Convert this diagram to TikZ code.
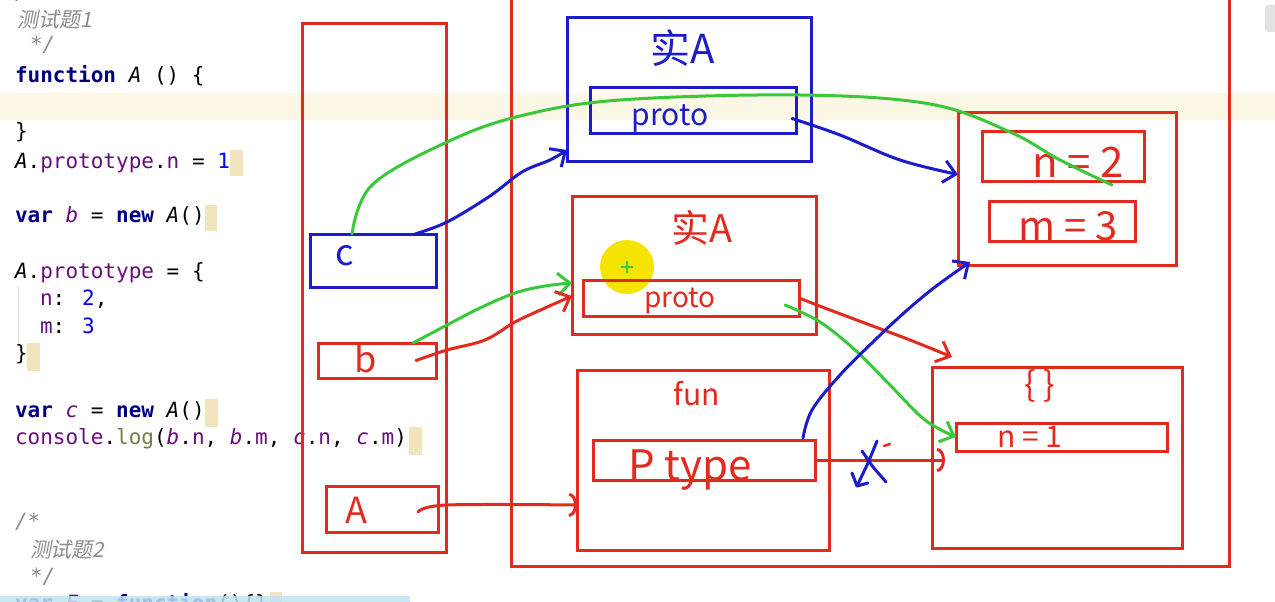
\documentclass[tikz,border=0pt]{standalone}
\usepackage{fontspec}
\usetikzlibrary{arrows.meta,calc}
\newfontfamily\codefont{DejaVu Sans Mono}
\newfontfamily\cjkit[FakeSlant=0.2]{Noto Sans CJK SC}
\newfontfamily\hand{Noto Sans CJK SC}
\definecolor{kw}{HTML}{000080}
\definecolor{pu}{HTML}{660E7A}
\definecolor{num}{HTML}{0000FF}
\definecolor{ol}{HTML}{7A7A43}
\definecolor{cm}{HTML}{8C8C8C}
\definecolor{band}{HTML}{FDF7E6}
\definecolor{caret}{HTML}{F2E4BD}
\definecolor{pred}{HTML}{E32A1E}
\definecolor{pblue}{HTML}{1C1CC8}
\definecolor{pgreen}{HTML}{3AC83A}
\definecolor{cursorY}{HTML}{F5E300}
\definecolor{lblue}{HTML}{BEE3F2}
\newcommand{\kwd}[1]{\textcolor{kw}{\bfseries #1}}
\newcommand{\pur}[1]{\textcolor{pu}{#1}}
\newcommand{\ipur}[1]{\textcolor{pu}{\itshape #1}}
\newcommand{\nm}[1]{\textcolor{num}{#1}}
\newcommand{\hfs}[1]{\hand\fontsize{#1}{#1}\selectfont}
\begin{document}
\begin{tikzpicture}[x=1pt,y=-1pt,
  code/.style={anchor=base west, inner sep=0pt, outer sep=0pt, font=\codefont\fontsize{21}{25}\selectfont},
  cmt/.style={code, text=cm, font=\codefont\itshape\fontsize{21}{25}\selectfont},
  cjkc/.style={code, text=cm, font=\cjkit\fontsize{21}{25}\selectfont},
  rbox/.style={draw=pred, line width=3pt, inner sep=0pt, outer sep=0pt},
  bbox/.style={draw=pblue, line width=3pt, inner sep=0pt, outer sep=0pt},
  rlab/.style={text=pred, inner sep=0pt},
  blab/.style={text=pblue, inner sep=0pt},
  rpen/.style={draw=pred, line width=3pt, line cap=round, line join=round},
  bpen/.style={draw=pblue, line width=3pt, line cap=round, line join=round},
  gpen/.style={draw=pgreen, line width=3pt, line cap=round, line join=round},
  barb/.style={-{Straight Barb[length=12pt,width=22pt]}},
  arcbarb/.style={-{Arc Barb[length=8pt,width=24pt]}}
]
\useasboundingbox (0,0) rectangle (1275,602);
\clip (0,0) rectangle (1275,602);
\fill[white] (0,0) rectangle (1275,602);
% current line band
\fill[band] (0,93) rectangle (1275,120);
% caret blocks
\fill[caret] (230,150) rectangle (243,176);
\fill[caret] (205,205) rectangle (217,231);
\fill[caret] (27,343) rectangle (40,371);
\fill[caret] (205,399) rectangle (218,427);
\fill[caret] (409,427) rectangle (422,455);
\fill[caret] (270,592) rectangle (282,602);
% indent guide
\draw[gray!30, line width=0.8pt] (18,287) -- (18,345);
% top-right gray tab
\fill[gray!22, rounded corners=3pt] (1265,5) rectangle (1285,32);

% code
\node[cmt] (l0) at (15,0) {/*};
\node[cjkc] (l1) at (17,28) {测试题1};
\node[cmt] (l2) at (30,52) {*/};
\node[code] (l3) at (15,83) {\kwd{function} \textit{A} () \{};
\node[code] (l4) at (15,138) {\}};
\node[code] (l5) at (15,168) {\textit{A}.\pur{prototype}.\pur{n} = \nm{1}};
\node[code] (l6) at (15,222) {\kwd{var} \ipur{b} = \kwd{new} \textit{A}()};
\node[code] (l7) at (15,278) {\textit{A}.\pur{prototype} = \{};
\node[code] (l8) at (40,305) {\pur{n}: \nm{2},};
\node[code] (l9) at (40,333) {\pur{m}: \nm{3}};
\node[code] (l10) at (15,360) {\}};
\node[code] (l11) at (15,417) {\kwd{var} \ipur{c} = \kwd{new} \textit{A}()};
\node[code] (l12) at (15,444) {\pur{console}.\textcolor{ol}{log}(\ipur{b}.\pur{n}, \ipur{b}.\pur{m}, \ipur{c}.\pur{n}, \ipur{c}.\pur{m})};
\node[cmt] (l13) at (15,528) {/*};
\node[cjkc] (l14) at (30,557) {测试题2};
\node[cmt] (l15) at (30,583) {*/};
\node[code] (l16) at (15,610) {\kwd{var} \ipur{F} = \kwd{function}()\{\}};
\fill[lblue, opacity=0.85] (0,596) rectangle (410,602);

% mouse highlight
\fill[cursorY] (627,267) circle (27pt);
\draw[draw=pgreen, line width=2pt] (621,267) -- (633,267) (627,261) -- (627,273);

% boxes
\node[rbox, minimum width=144pt, minimum height=528pt] (stack) at (374,288) {};
\node[bbox, minimum width=126pt, minimum height=53pt] (cbox) at (373,260.5) {};
\node[rbox, minimum width=118pt, minimum height=35pt] (bbx) at (377,360.5) {};
\node[rbox, minimum width=112pt, minimum height=46pt] (abox) at (382,509) {};
\node[rbox, minimum width=718pt, minimum height=576pt] (heap) at (870,278) {};
\node[bbox, minimum width=244pt, minimum height=143pt] (inst1) at (689,89.5) {};
\node[bbox, minimum width=206pt, minimum height=45pt] (proto1) at (693,110.5) {};
\node[rbox, minimum width=244pt, minimum height=138pt] (inst2) at (694,265) {};
\node[rbox, minimum width=216pt, minimum height=36pt] (proto2) at (691,298) {};
\node[rbox, minimum width=252pt, minimum height=180pt] (fun) at (703,460) {};
\node[rbox, minimum width=222pt, minimum height=40pt] (ptype) at (704,460) {};
\node[rbox, minimum width=218pt, minimum height=153pt] (newproto) at (1067,188.5) {};
\node[rbox, minimum width=162pt, minimum height=50pt] (n2) at (1063,156) {};
\node[rbox, minimum width=146pt, minimum height=40pt] (m3) at (1062,221) {};
\node[rbox, minimum width=250pt, minimum height=181pt] (oldproto) at (1057,457.5) {};
\node[rbox, minimum width=211pt, minimum height=28pt] (n1) at (1061.5,437) {};

% handwritten labels
\node[blab, font=\hfs{40}] (t1) at (683,48) {实A};
\node[blab, font=\hfs{30}] (t2) at (670,118) {proto};
\node[rlab, font=\hfs{38}] (t3) at (702,228) {实A};
\node[rlab, font=\hfs{28}] (t4) at (680,301) {proto};
\node[rlab, font=\hfs{30}] (t5) at (697,394) {fun};
\node[rlab, font=\hfs{42}] (t6) at (690,470) {P type};
\node[rlab, font=\hfs{42}] (t7) at (1078,162) {n = 2};
\node[rlab, font=\hfs{40}] (t8) at (1068,226) {m = 3};
\node[rlab, font=\hfs{34}] (t9) at (1040,386) {\{ \}};
\node[rlab, font=\hfs{30}] (t10) at (1030,437) {n = 1};
\node[blab, font=\hfs{36}] (t11) at (345,256) {c};
\node[rlab, font=\hfs{36}] (t12) at (366,358) {b};
\node[rlab, font=\hfs{36}] (t13) at (356,510) {A};

% connectors
\draw[gpen] plot[smooth, tension=0.6] coordinates {([xshift=42pt]cbox.north west) (372,185) (447,142) (520,116) (620,100) (800,95) (930,104) (1010,132) (1060,160) ([xshift=-32pt,yshift=-4pt]n2.south east)};
\draw[bpen, barb] plot[smooth, tension=0.6] coordinates {([xshift=105pt]cbox.north west) (447,222) (490,196) (522,172) (550,160) ([yshift=11pt]inst1.south west)};
\draw[bpen, barb] plot[smooth, tension=0.6] coordinates {([xshift=-4pt,yshift=-8pt]proto1.east) (840,135) (900,160) ([yshift=14pt]newproto.west)};
\draw[gpen, barb] plot[smooth, tension=0.6] coordinates {([xshift=95pt]bbx.north west) (447,325) (480,308) (515,293) (545,286) ([yshift=-18pt]inst2.west)};
\draw[rpen, barb] plot[smooth, tension=0.6] coordinates {([xshift=-20pt]bbx.east) (447,350) (485,340) (515,322) (545,308) ([yshift=-31pt]inst2.west)};
\draw[rpen, barb] plot[smooth, tension=0.6] coordinates {(proto2.east) (830,310) (870,325) (910,340) ([xshift=20pt,yshift=10pt]oldproto.north west)};
\draw[gpen, barb] plot[smooth, tension=0.6] coordinates {([xshift=-14pt,yshift=-7pt]proto2.east) (820,322) (855,350) (890,385) (925,420) (n1.west)};
\draw[bpen, barb] plot[smooth, tension=0.6] coordinates {([xshift=-12pt,yshift=2pt]ptype.north east) (812,410) (840,375) (875,340) (905,312) (935,287) ([xshift=12pt,yshift=3pt]newproto.south west)};
\draw[rpen, arcbarb] (ptype.east) -- ([xshift=13pt,yshift=-2.5pt]oldproto.west);
\draw[rpen, arcbarb] plot[smooth, tension=0.6] coordinates {([xshift=-20pt,yshift=-3pt]abox.east) (447,505) ([yshift=-45pt]fun.west)};

% cross mark on the old prototype link
\draw[bpen] (877,441) -- (868,463) -- (857,486);
\draw[bpen] (852,473) -- (857,486) -- (868,483);
\draw[bpen] (862,451) -- (873,467) -- (886,482);
\draw[rpen, line width=2.5pt] (884,446) -- (890,444);
\end{tikzpicture}
\end{document}
